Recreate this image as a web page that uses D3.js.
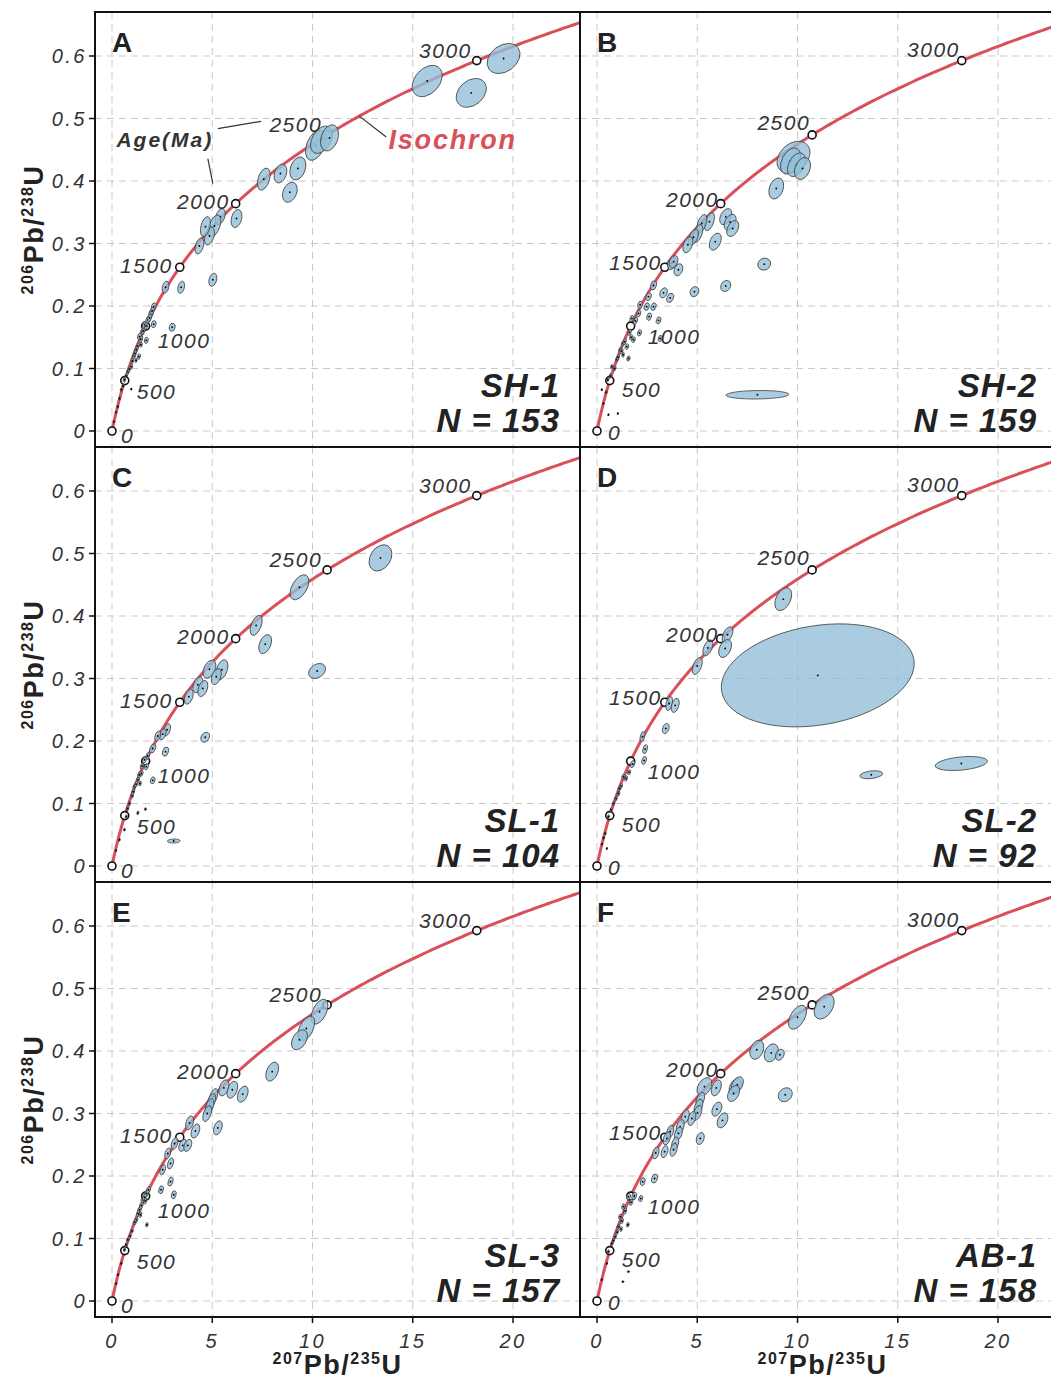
<!DOCTYPE html>
<html>
<head>
<meta charset="utf-8">
<script src="https://cdn.jsdelivr.net/npm/d3@7"></script>
<style>
body { margin: 0; background: #fff; }
svg text { font-family: "Liberation Sans", Arial, sans-serif; }
</style>
</head>
<body>
<div id="chart"></div>
<script>
// panel ids, sample names and counts
var panelIds = ["A", "B", "C", "D", "E", "F"];
var sampleNames = ["SH-1", "SH-2", "SL-1", "SL-2", "SL-3", "AB-1"];
var sampleCounts = [153, 159, 104, 92, 157, 158];

// concordia age markers (Ma) and axis ticks
var ageTicks = [0, 500, 1000, 1500, 2000, 2500, 3000];
var xTicks = [0, 5, 10, 15, 20];
var yTicks = [0, 0.1, 0.2, 0.3, 0.4, 0.5, 0.6];

// ellipses: [207Pb/235U, 206Pb/238U, half width (x), half height (y), rho]
var ellA = [
  [19.53,0.596,0.82,0.024,0.3],[15.72,0.560,0.75,0.025,0.35],[17.92,0.541,0.75,0.023,0.3],
  [10.15,0.457,0.50,0.024,0.4],[10.45,0.466,0.55,0.022,0.4],[10.85,0.469,0.45,0.021,0.3],
  [7.57,0.403,0.32,0.0176,0.4],[8.40,0.412,0.32,0.015,0.3],[9.27,0.420,0.40,0.0184,0.3],
  [8.87,0.382,0.37,0.016,0.3],[6.21,0.340,0.27,0.0144,0.3],[5.40,0.343,0.25,0.0128,0.4],
  [5.11,0.328,0.32,0.0176,0.5],[4.86,0.312,0.25,0.0144,0.4],[4.66,0.327,0.25,0.016,0.4],
  [4.36,0.296,0.22,0.0128,0.4],[5.03,0.242,0.20,0.0104,0.3],[3.45,0.230,0.17,0.0096,0.3],
  [2.67,0.230,0.17,0.0096,0.3],[3.00,0.166,0.15,0.0064,0.2],[2.08,0.171,0.12,0.0056,0.2],
  [1.71,0.145,0.10,0.0048,0.2],[2.08,0.199,0.12,0.006,0.3],[1.95,0.188,0.12,0.006,0.3],
  [1.80,0.178,0.11,0.0056,0.3],[1.62,0.170,0.11,0.0056,0.3],[1.50,0.158,0.10,0.005,0.3],
  [1.37,0.151,0.10,0.005,0.3],[1.21,0.130,0.09,0.0045,0.3],[1.34,0.119,0.08,0.0045,0.3],
  [1.10,0.120,0.08,0.0045,0.3],[0.96,0.103,0.07,0.004,0.3],[0.80,0.095,0.07,0.004,0.3],
  [0.62,0.082,0.06,0.004,0.3],[0.55,0.072,0.05,0.003,0.3],[0.46,0.066,0.05,0.003,0.3],
  [0.96,0.067,0.03,0.002,0.3],[0.29,0.039,0.04,0.003,0.3],[0.20,0.030,0.03,0.002,0.3],
  [0.10,0.015,0.03,0.002,0.3],[0.86,0.099,0.07,0.004,0.4],[1.02,0.112,0.07,0.0045,0.4],
  [1.14,0.124,0.08,0.0045,0.4],[1.28,0.136,0.08,0.005,0.4],[1.44,0.147,0.09,0.005,0.4],
  [1.56,0.160,0.09,0.005,0.4],[1.70,0.168,0.09,0.0055,0.4],[1.88,0.181,0.10,0.006,0.4],
  [2.00,0.192,0.10,0.006,0.4],[0.70,0.088,0.06,0.004,0.4],[0.38,0.052,0.04,0.003,0.4],
  [1.45,0.138,0.06,0.004,0.3],[1.20,0.113,0.05,0.0035,0.3]
];
var ellB = [
  [9.80,0.438,0.82,0.0256,0.3],[9.65,0.432,0.50,0.021,0.4],[9.95,0.426,0.45,0.019,0.4],
  [10.25,0.420,0.40,0.0176,0.3],[8.94,0.388,0.37,0.0168,0.3],[6.42,0.343,0.30,0.0128,0.4],
  [6.64,0.334,0.30,0.0128,0.4],[6.77,0.324,0.30,0.0128,0.4],[5.90,0.303,0.30,0.0136,0.4],
  [5.61,0.335,0.25,0.0144,0.5],[5.23,0.332,0.25,0.0144,0.5],[5.03,0.316,0.25,0.0144,0.5],
  [4.81,0.310,0.25,0.0128,0.5],[4.53,0.298,0.25,0.0128,0.4],[8.34,0.267,0.32,0.0096,0.1],
  [6.42,0.232,0.25,0.0088,0.2],[4.86,0.223,0.22,0.008,0.2],[3.73,0.268,0.22,0.0096,0.3],
  [4.06,0.258,0.22,0.0096,0.3],[3.82,0.271,0.22,0.0096,0.3],[3.32,0.221,0.19,0.008,0.3],
  [3.65,0.213,0.17,0.0072,0.3],[2.82,0.233,0.15,0.0072,0.3],[2.57,0.215,0.14,0.0064,0.3],
  [2.48,0.199,0.13,0.006,0.3],[2.82,0.199,0.13,0.006,0.3],[2.60,0.183,0.12,0.006,0.3],
  [3.07,0.177,0.12,0.0056,0.3],[2.15,0.202,0.12,0.006,0.3],[2.07,0.188,0.11,0.0056,0.3],
  [1.74,0.180,0.10,0.005,0.3],[2.12,0.157,0.10,0.005,0.3],[3.15,0.148,0.10,0.005,0.3],
  [1.82,0.146,0.09,0.0045,0.3],[1.49,0.135,0.09,0.0045,0.3],[1.57,0.116,0.08,0.004,0.3],
  [1.16,0.130,0.08,0.004,0.3],[1.30,0.140,0.08,0.004,0.3],[0.99,0.114,0.07,0.004,0.3],
  [0.74,0.103,0.06,0.0035,0.3],[0.54,0.082,0.05,0.003,0.3],[0.24,0.066,0.03,0.002,0.3],
  [0.57,0.026,0.03,0.002,0.3],[1.04,0.028,0.03,0.002,0.3],[0.32,0.044,0.03,0.002,0.3],
  [8.00,0.058,1.57,0.0068,0.1],[0.88,0.100,0.07,0.004,0.4],[1.05,0.118,0.07,0.0045,0.4],
  [1.22,0.128,0.08,0.0045,0.4],[1.38,0.143,0.08,0.005,0.4],[1.62,0.158,0.09,0.005,0.4],
  [1.92,0.176,0.10,0.0055,0.4],[0.66,0.088,0.06,0.004,0.4],[0.45,0.062,0.05,0.003,0.4],
  [1.30,0.122,0.06,0.004,0.3],[1.70,0.150,0.07,0.0045,0.3]
];
var ellC = [
  [13.39,0.493,0.57,0.021,0.3],[9.35,0.446,0.47,0.020,0.5],[7.19,0.385,0.30,0.016,0.5],
  [7.64,0.355,0.32,0.0152,0.4],[10.23,0.312,0.42,0.012,0.3],[4.86,0.315,0.32,0.0144,0.4],
  [5.48,0.314,0.30,0.016,0.4],[5.20,0.303,0.25,0.0128,0.4],[4.28,0.290,0.25,0.0128,0.4],
  [4.53,0.284,0.25,0.0128,0.4],[3.83,0.271,0.22,0.012,0.4],[4.65,0.206,0.22,0.008,0.3],
  [2.75,0.218,0.17,0.0096,0.4],[2.53,0.211,0.17,0.0088,0.4],[2.28,0.208,0.15,0.008,0.4],
  [2.03,0.188,0.15,0.0072,0.4],[2.67,0.183,0.15,0.0072,0.3],[1.62,0.170,0.10,0.005,0.3],
  [1.71,0.159,0.10,0.005,0.3],[1.46,0.148,0.09,0.0045,0.3],[1.29,0.138,0.08,0.004,0.3],
  [2.03,0.137,0.12,0.0056,0.3],[1.12,0.127,0.07,0.004,0.3],[1.00,0.112,0.07,0.004,0.3],
  [0.87,0.100,0.06,0.0035,0.3],[1.29,0.085,0.05,0.0032,0.3],[1.67,0.091,0.04,0.0024,0.3],
  [0.71,0.079,0.05,0.003,0.3],[0.62,0.058,0.04,0.0025,0.3],[0.37,0.042,0.04,0.0025,0.3],
  [0.20,0.025,0.03,0.002,0.3],[3.08,0.040,0.32,0.0032,0.1],[1.50,0.160,0.09,0.005,0.4],
  [1.36,0.146,0.08,0.005,0.4],[1.20,0.131,0.08,0.0045,0.4],[1.06,0.119,0.07,0.0045,0.4],
  [1.78,0.176,0.09,0.0055,0.4],[0.78,0.092,0.06,0.004,0.4],[1.40,0.132,0.06,0.004,0.3]
];
var ellD = [
  [11.01,0.305,4.81,0.0824,0.23],[18.17,0.164,1.30,0.0112,0.33],[13.68,0.146,0.57,0.0064,0.3],
  [9.29,0.427,0.42,0.0184,0.4],[6.51,0.370,0.27,0.0128,0.5],[6.39,0.348,0.32,0.0144,0.4],
  [5.53,0.349,0.25,0.0128,0.5],[5.00,0.320,0.25,0.0136,0.5],[3.60,0.260,0.17,0.0112,0.4],
  [3.90,0.257,0.20,0.0112,0.4],[3.43,0.220,0.17,0.008,0.3],[2.27,0.207,0.12,0.008,0.4],
  [2.40,0.187,0.12,0.0072,0.4],[2.35,0.169,0.12,0.0064,0.4],[1.77,0.163,0.12,0.0056,0.4],
  [1.60,0.150,0.08,0.004,0.3],[1.32,0.143,0.08,0.004,0.3],[1.20,0.128,0.07,0.004,0.3],
  [1.07,0.116,0.07,0.004,0.3],[0.82,0.100,0.06,0.0035,0.3],[0.57,0.079,0.05,0.003,0.3],
  [0.41,0.052,0.04,0.0025,0.3],[0.49,0.028,0.03,0.002,0.3],[0.25,0.035,0.03,0.002,0.3],
  [1.45,0.140,0.07,0.0045,0.4],[1.12,0.124,0.07,0.0045,0.4],[0.95,0.108,0.06,0.004,0.4],
  [0.70,0.090,0.05,0.0035,0.4],[0.33,0.045,0.04,0.003,0.4]
];
var ellE = [
  [10.35,0.463,0.42,0.020,0.5],[9.69,0.436,0.42,0.020,0.5],[9.35,0.418,0.40,0.016,0.4],
  [7.99,0.367,0.32,0.0152,0.4],[6.52,0.331,0.27,0.0128,0.4],[6.00,0.338,0.27,0.0136,0.4],
  [5.58,0.341,0.25,0.0128,0.4],[5.06,0.327,0.22,0.0128,0.5],[4.95,0.319,0.22,0.0128,0.5],
  [4.86,0.311,0.22,0.0128,0.5],[4.75,0.300,0.22,0.0128,0.5],[5.28,0.277,0.22,0.0112,0.4],
  [4.16,0.272,0.22,0.0112,0.4],[3.87,0.285,0.20,0.0112,0.4],[3.53,0.249,0.20,0.0096,0.4],
  [3.78,0.249,0.20,0.0096,0.4],[3.12,0.252,0.17,0.0096,0.4],[2.92,0.220,0.15,0.0088,0.4],
  [2.78,0.236,0.15,0.0088,0.4],[2.53,0.210,0.14,0.008,0.4],[2.92,0.191,0.13,0.0072,0.4],
  [2.45,0.178,0.12,0.0064,0.3],[3.08,0.170,0.12,0.0064,0.3],[1.71,0.172,0.10,0.0056,0.3],
  [1.54,0.162,0.09,0.005,0.3],[1.37,0.146,0.09,0.0045,0.3],[1.21,0.130,0.08,0.004,0.3],
  [1.74,0.122,0.06,0.0035,0.3],[1.00,0.112,0.06,0.0035,0.3],[0.79,0.098,0.06,0.0035,0.3],
  [0.62,0.082,0.05,0.003,0.3],[0.46,0.060,0.04,0.0025,0.3],[0.30,0.042,0.03,0.002,0.3],
  [0.21,0.028,0.03,0.002,0.3],[1.82,0.178,0.10,0.0055,0.4],[1.62,0.166,0.09,0.0055,0.4],
  [1.46,0.153,0.09,0.005,0.4],[1.30,0.140,0.08,0.005,0.4],[1.14,0.126,0.08,0.0045,0.4],
  [1.66,0.160,0.08,0.005,0.4],[1.42,0.138,0.07,0.0045,0.4],[0.90,0.104,0.06,0.004,0.4],
  [0.70,0.090,0.05,0.0035,0.4]
];
var ellF = [
  [11.33,0.471,0.50,0.020,0.4],[10.00,0.454,0.45,0.0192,0.5],[7.97,0.402,0.35,0.0152,0.3],
  [8.69,0.397,0.35,0.0144,0.3],[9.12,0.394,0.22,0.0088,0.3],[9.39,0.330,0.35,0.0112,0.2],
  [6.89,0.343,0.30,0.0128,0.4],[7.00,0.346,0.30,0.0128,0.4],[6.81,0.332,0.30,0.0128,0.4],
  [5.95,0.341,0.25,0.0128,0.4],[5.36,0.343,0.37,0.0144,0.4],[5.98,0.307,0.25,0.0112,0.4],
  [6.26,0.289,0.27,0.012,0.4],[5.15,0.260,0.20,0.0096,0.3],[5.15,0.322,0.22,0.012,0.5],
  [5.06,0.311,0.22,0.012,0.5],[5.01,0.301,0.22,0.012,0.5],[4.73,0.292,0.20,0.0112,0.4],
  [4.40,0.295,0.20,0.0112,0.4],[4.15,0.279,0.20,0.0112,0.4],[4.06,0.268,0.20,0.0104,0.4],
  [3.90,0.252,0.18,0.0104,0.4],[3.82,0.242,0.18,0.0104,0.4],[3.65,0.271,0.18,0.0104,0.4],
  [3.48,0.260,0.18,0.0104,0.4],[3.37,0.239,0.17,0.0096,0.4],[2.93,0.237,0.17,0.0096,0.4],
  [2.87,0.196,0.15,0.0072,0.3],[2.28,0.191,0.12,0.0064,0.3],[1.86,0.168,0.12,0.006,0.3],
  [2.18,0.164,0.10,0.005,0.3],[1.57,0.167,0.10,0.005,0.3],[1.32,0.151,0.09,0.0045,0.3],
  [1.16,0.135,0.08,0.004,0.3],[1.54,0.122,0.07,0.0035,0.3],[1.07,0.119,0.07,0.004,0.3],
  [0.91,0.103,0.06,0.0035,0.3],[0.74,0.092,0.05,0.003,0.3],[0.57,0.079,0.05,0.003,0.3],
  [1.57,0.047,0.06,0.0012,0.1],[1.29,0.031,0.06,0.0012,0.1],[0.49,0.060,0.03,0.002,0.3],
  [0.24,0.034,0.03,0.002,0.3],[1.40,0.144,0.08,0.005,0.4],[1.24,0.128,0.08,0.0045,0.4],
  [1.00,0.110,0.07,0.004,0.4],[0.82,0.097,0.06,0.004,0.4],[1.70,0.158,0.09,0.005,0.4],
  [1.20,0.115,0.06,0.004,0.3]
];
var ellipses = [ellA, ellB, ellC, ellD, ellE, ellF];

// decay constants (per year)
var l238 = 1.55125e-10, l235 = 9.8485e-10;
function conc(ma) {
  var t = ma * 1e6;
  return [Math.exp(l235 * t) - 1, Math.exp(l238 * t) - 1];
}

// layout
var W = 1051, H = 1382;
var padLeft = 95, padTop = 12, pw = 485, ph = 435;
var colX = [padLeft, padLeft + pw], rowY = [padTop, padTop + ph, padTop + 2 * ph];

var svg = d3.select("#chart").append("svg")
    .attr("width", W).attr("height", H);

var x = d3.scaleLinear().domain([-17 / 20.05, 468 / 20.05]).range([0, pw]);
var y = d3.scaleLinear().domain([-16 / 625, 419 / 625]).range([ph, 0]);
var kx = x(1) - x(0), ky = y(0) - y(1);

var curveLine = d3.line()
    .x(function(a) { return x(conc(a)[0]); })
    .y(function(a) { return y(conc(a)[1]); });
var curveAges = d3.range(0, 3400, 5);

// label offsets for age markers, left and right columns
var ageLabelL = {0:[9,12,"start"],500:[12,18,"start"],1000:[12,22,"start"],1500:[-7,6,"end"],2000:[-6,5,"end"],2500:[-5,-3,"end"],3000:[-5,-3,"end"]};
var ageLabelR = {0:[11,9,"start"],500:[12,16,"start"],1000:[17,18,"start"],1500:[-3,3,"end"],2000:[-2,3,"end"],2500:[-2,-5,"end"],3000:[-2,-4,"end"]};

panelIds.forEach(function(id, i) {
  var col = i % 2, row = Math.floor(i / 2);
  var g = svg.append("g")
      .attr("transform", "translate(" + colX[col] + "," + rowY[row] + ")");

  g.append("clipPath").attr("id", "clip" + id)
    .append("rect").attr("width", pw).attr("height", ph);

  // grid
  g.append("g").selectAll("line").data(xTicks).enter().append("line")
      .attr("x1", function(d) { return x(d); }).attr("x2", function(d) { return x(d); })
      .attr("y1", 0).attr("y2", ph)
      .attr("stroke", "#c9c9c9").attr("stroke-width", 1).attr("stroke-dasharray", "7,5");
  g.append("g").selectAll("line").data(yTicks).enter().append("line")
      .attr("y1", function(d) { return y(d); }).attr("y2", function(d) { return y(d); })
      .attr("x1", 0).attr("x2", pw)
      .attr("stroke", "#c9c9c9").attr("stroke-width", 1).attr("stroke-dasharray", "7,5");

  var plot = g.append("g").attr("clip-path", "url(#clip" + id + ")");

  // concordia curve
  plot.append("path").datum(curveAges)
      .attr("d", curveLine)
      .attr("fill", "none").attr("stroke", "#d9505a").attr("stroke-width", 3);

  // age markers
  plot.selectAll("circle.age").data(ageTicks).enter().append("circle")
      .attr("class", "age")
      .attr("cx", function(a) { return x(conc(a)[0]); })
      .attr("cy", function(a) { return y(conc(a)[1]); })
      .attr("r", 4).attr("fill", "#fff").attr("stroke", "#111").attr("stroke-width", 1.6);

  // error ellipses
  var ell = plot.selectAll("g.ell").data(ellipses[i]).enter().append("g")
      .attr("class", "ell")
      .attr("transform", function(d) {
        return "translate(" + x(d[0]) + "," + y(d[1]) + ")";
      });
  ell.append("ellipse")
      .each(function(d) {
        var sx = d[2] * kx, sy = d[3] * ky;
        var a = sx * sx, b = sy * sy, c = -d[4] * sx * sy;
        var m = (a + b) / 2, s = Math.sqrt((a - b) * (a - b) / 4 + c * c);
        var th = 0.5 * Math.atan2(2 * c, a - b) * 180 / Math.PI;
        d3.select(this)
          .attr("rx", Math.sqrt(m + s)).attr("ry", Math.sqrt(Math.max(m - s, 0.1)))
          .attr("transform", "rotate(" + th + ")");
      })
      .attr("fill", "#94bfd8").attr("fill-opacity", 0.8)
      .attr("stroke", "#444").attr("stroke-width", 0.8);
  ell.append("circle").attr("r", 0.9).attr("fill", "#000");

  // age labels
  var offs = col === 0 ? ageLabelL : ageLabelR;
  g.selectAll("text.agelab").data(ageTicks).enter().append("text")
      .attr("class", "agelab")
      .attr("x", function(a) { return x(conc(a)[0]) + offs[a][0]; })
      .attr("y", function(a) { return y(conc(a)[1]) + offs[a][1]; })
      .attr("text-anchor", function(a) { return offs[a][2]; })
      .attr("font-size", 21).attr("font-style", "italic")
      .attr("letter-spacing", "1.5px").attr("fill", "#333")
      .text(function(a) { return a; });

  // panel letter
  g.append("text").attr("x", x(0)).attr("y", 40)
      .attr("font-size", 28).attr("font-weight", "bold").attr("fill", "#222")
      .text(id);

  // sample name and count
  var rx = col === 0 ? 465 : 457;
  g.append("text").attr("x", rx).attr("y", ph - 50)
      .attr("text-anchor", "end").attr("font-size", 33)
      .attr("font-weight", "bold").attr("font-style", "italic")
      .attr("letter-spacing", "1px").attr("fill", "#222")
      .text(sampleNames[i]);
  g.append("text").attr("x", rx).attr("y", ph - 15)
      .attr("text-anchor", "end").attr("font-size", 33)
      .attr("font-weight", "bold").attr("font-style", "italic")
      .attr("letter-spacing", "1px").attr("fill", "#222")
      .text("N = " + sampleCounts[i]);

  // frame
  g.append("rect").attr("width", pw).attr("height", ph)
      .attr("fill", "none").attr("stroke", "#111").attr("stroke-width", 2);

  // y axis on left column
  if (col === 0) {
    var ya = g.append("g").selectAll("g").data(yTicks).enter().append("g")
        .attr("transform", function(d) { return "translate(0," + y(d) + ")"; });
    ya.append("line").attr("x1", -6).attr("x2", 0).attr("stroke", "#111").attr("stroke-width", 1.5);
    ya.append("text").attr("x", -8).attr("y", 7)
        .attr("text-anchor", "end").attr("font-size", 20).attr("font-style", "italic")
        .attr("letter-spacing", "2.5px").attr("fill", "#333")
        .text(function(d) { return d === 0 ? "0" : d3.format(".1f")(d); });

    var yt = g.append("text")
        .attr("transform", "translate(-52," + (ph / 2) + ") rotate(-90)")
        .attr("text-anchor", "middle").attr("font-weight", "bold")
        .attr("fill", "#222").attr("letter-spacing", "1.5px");
    yt.append("tspan").attr("font-size", 16).attr("dy", -10).text("206");
    yt.append("tspan").attr("font-size", 27).attr("dy", 10).text("Pb/");
    yt.append("tspan").attr("font-size", 16).attr("dy", -10).text("238");
    yt.append("tspan").attr("font-size", 27).attr("dy", 10).text("U");
  }

  // x axis on bottom row
  if (row === 2) {
    var xa = g.append("g").selectAll("g").data(xTicks).enter().append("g")
        .attr("transform", function(d) { return "translate(" + x(d) + "," + ph + ")"; });
    xa.append("line").attr("y1", 0).attr("y2", 6).attr("stroke", "#111").attr("stroke-width", 1.5);
    xa.append("text").attr("y", 31)
        .attr("text-anchor", "middle").attr("font-size", 20).attr("font-style", "italic")
        .attr("letter-spacing", "2.5px").attr("fill", "#333")
        .text(function(d) { return d; });

    var xt = g.append("text")
        .attr("x", pw / 2).attr("y", ph + 57)
        .attr("text-anchor", "middle").attr("font-weight", "bold")
        .attr("fill", "#222").attr("letter-spacing", "1.5px");
    xt.append("tspan").attr("font-size", 16).attr("dy", -10).text("207");
    xt.append("tspan").attr("font-size", 27).attr("dy", 10).text("Pb/");
    xt.append("tspan").attr("font-size", 16).attr("dy", -10).text("235");
    xt.append("tspan").attr("font-size", 27).attr("dy", 10).text("U");
  }

  // annotations in panel A
  if (id === "A") {
    g.append("text").attr("x", x(0.22)).attr("y", y(0.454))
        .attr("font-size", 21).attr("font-weight", "bold").attr("font-style", "italic")
        .attr("letter-spacing", "2px").attr("fill", "#333")
        .text("Age(Ma)");
    g.append("line")
        .attr("x1", x(5.28)).attr("y1", y(0.4837)).attr("x2", x(7.44)).attr("y2", y(0.4955))
        .attr("stroke", "#333").attr("stroke-width", 1.2);
    g.append("line")
        .attr("x1", x(4.78)).attr("y1", y(0.4357)).attr("x2", x(5.03)).attr("y2", y(0.3957))
        .attr("stroke", "#333").attr("stroke-width", 1.2);
    var p = conc(2630);
    g.append("line")
        .attr("x1", x(p[0])).attr("y1", y(p[1])).attr("x2", x(13.68)).attr("y2", y(0.4704))
        .attr("stroke", "#333").attr("stroke-width", 1.2);
    g.append("text").attr("x", x(13.79)).attr("y", y(0.4512))
        .attr("font-size", 27).attr("font-weight", "bold").attr("font-style", "italic")
        .attr("letter-spacing", "1.8px").attr("fill", "#d9505a")
        .text("Isochron");
  }
});
</script>
</body>
</html>
